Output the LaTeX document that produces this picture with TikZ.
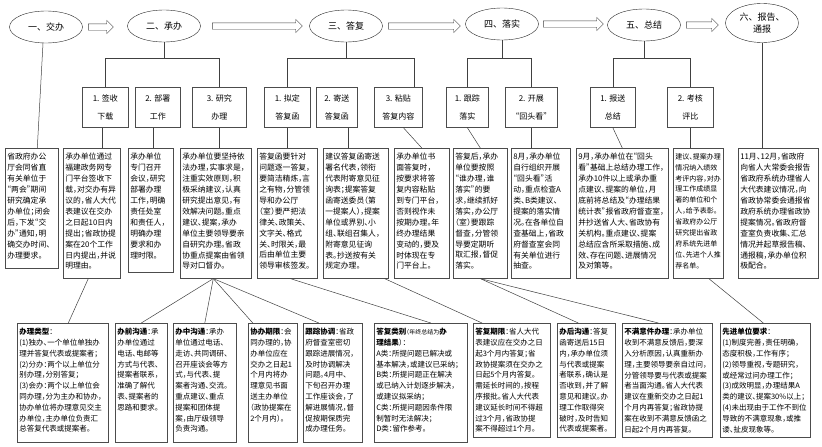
\documentclass[tikz,border=0pt]{standalone}
\usepackage{fontspec}
\setmainfont{Noto Sans CJK SC}[RawFeature=+halt]
\newfontfamily\ovalfont{Noto Sans CJK SC}
\usepackage{tikz}
\usetikzlibrary{shapes.geometric,shapes.arrows,positioning}

% fixed text block inside a frame, text at its top
\newcommand{\boxtext}[3]{\parbox[c][#2][t]{#1}{#3}}

\begin{document}
\begin{tikzpicture}[
    x=1pt, y=-1pt,
    oval/.style={ellipse, draw=black!85, minimum width=73pt, minimum height=32pt, inner sep=0pt, align=center, font=\ovalfont\fontsize{9}{12}\selectfont},
    flow/.style={single arrow, draw=black!75, single arrow head extend=3.5pt, single arrow head indent=0pt, inner sep=3pt, anchor=tail},
    stage/.style={rectangle, draw=black!70, line width=0.6pt, anchor=north west, minimum height=40pt, inner sep=1pt, align=center, font=\fontsize{8}{18}\selectfont},
    note/.style={rectangle, draw=black!70, line width=0.6pt, anchor=north west, inner xsep=2pt, inner ysep=5pt, font=\fontsize{7.8}{10.9}\selectfont},
    detail/.style={note, font=\fontsize{7.5}{10.8}\selectfont},
    link/.style={draw=black!75, line width=0.5pt}
]
    \useasboundingbox (0,0) rectangle (822,447);

    % stages
    \node[oval] (e1) at (46,27) {一、交办};
    \node[oval] (e2) at (164,26) {二、承办};
    \node[oval] (e3) at (346,26) {三、答复};
    \node[oval] (e4) at (502,24) {四、落实};
    \node[oval] (e5) at (644,25) {五、总结};
    \node[oval, minimum height=39pt] (e6) at (762,23) {六、报告、\\通报};

    \node[flow, minimum height=25pt] (f1) at ([xshift=5.5pt]e1.east) {};
    \node[flow, minimum height=90pt] (f2) at ([xshift=11.5pt]e2.east) {};
    \node[flow, minimum height=72pt] (f3) at ([xshift=5.5pt]e3.east) {};
    \node[flow, minimum height=60pt] (f4) at ([xshift=4.5pt]e4.east) {};
    \node[flow, minimum height=32pt] (f5) at ([xshift=5.5pt]e5.east) {};

    % steps
    \node[stage, minimum width=46pt] (s11) at (82,87) {1. 签收\\下载};
    \node[stage, minimum width=45pt] (s12) at (135,87) {2. 部署\\工作};
    \node[stage, minimum width=54pt] (s13) at (192,87) {3. 研究\\办理};
    \node[stage, minimum width=46pt] (s21) at (264,87) {1. 拟定\\答复函};
    \node[stage, minimum width=41pt] (s22) at (316,87) {2. 寄送\\答复函};
    \node[stage, minimum width=48pt] (s23) at (374,87) {3. 粘贴\\答复内容};
    \node[stage, minimum width=42pt] (s31) at (446,87) {1. 跟踪\\落实};
    \node[stage, minimum width=52pt] (s32) at (505,87) {2. 开展\\“回头看”};
    \node[stage, minimum width=45pt] (s41) at (590,87) {1. 报送\\总结};
    \node[stage, minimum width=46pt] (s42) at (667,87) {2. 考核\\评比};

    % what each step means
    \node[note] (A) at (5,148) {\boxtext{49pt}{110pt}{省政府办公\\厅会同省直\\有关单位于\\“两会”期间\\研究确定承\\办单位；闭会\\后，下发“交\\办”通知，明\\确交办时间、\\办理要求。}};
    \node[note] (B) at (63,148) {\boxtext{53pt}{120pt}{承办单位通过\\福建政务网专\\门平台签收下\\载，对交办有异\\议的，省人大代\\表建议在交办\\之日起10日内\\提出；省政协提\\案在20个工作\\日内提出，并说\\明理由。}};
    \node[note] (C) at (128,148) {\boxtext{41pt}{114pt}{承办单位\\专门召开\\会议，研究\\部署办理\\工作，明确\\责任处室\\和责任人，\\明确办理\\要求和办\\理时限。}};
    \node[note] (D) at (180,148) {\boxtext{67pt}{120pt}{承办单位要坚持依\\法办理，实事求是，\\注重实效原则，积\\极采纳建议，认真\\研究提出意见，有\\效解决问题。重点\\建议、提案，承办\\单位主要领导要亲\\自研究办理。省政\\协重点提案由省领\\导对口督办。}};
    \node[note] (E) at (257,148) {\boxtext{56pt}{120pt}{答复函要针对\\问题逐一答复，\\要简洁精炼，言\\之有物，分管领\\导和办公厅\\（室）要严把法\\律关、政策关、\\文字关、格式\\关、时限关，最\\后由单位主要\\领导审核签发。}};
    \node[note] (F) at (323,148) {\boxtext{61pt}{120pt}{建议答复函寄送\\署名代表，领衔\\代表附寄意见征\\询表；提案答复\\函寄送委员（第\\一提案人），提案\\单位或界别、小\\组、联组召集人，\\附寄意见征询\\表。抄送按有关\\规定办理。}};
    \node[note] (G) at (394,148) {\boxtext{51pt}{120pt}{承办单位书\\面答复时，\\按要求将答\\复内容粘贴\\到专门平台，\\否则视作未\\按期办理。年\\终办理结果\\变动的，要及\\时体现在专\\门平台上。}};
    \node[note] (H) at (453,148) {\boxtext{50pt}{120pt}{答复后，承办\\单位要按照\\“谁办理，谁\\落实”的要\\求，继续抓好\\落实，办公厅\\（室）要跟踪\\督查，分管领\\导要定期听\\取汇报，督促\\落实。}};
    \node[note] (I) at (511,148) {\boxtext{55pt}{120pt}{8月，承办单位\\自行组织开展\\“回头看”活\\动，重点检查A\\类、B类建议、\\提案的落实情\\况。在各单位自\\查基础上，省政\\府督查室会同\\有关单位进行\\抽查。}};
    \node[note] (J) at (576,148) {\boxtext{88pt}{120pt}{9月，承办单位在“回头\\看”基础上总结办理工作，\\承办10件以上或承办重\\点建议、提案的单位，月\\底前将总结及“办理结果\\统计表”报省政府督查室，\\并抄送省人大、省政协有\\关机构。重点建议、提案\\总结应含所采取措施、成\\效、存在问题、进展情况\\及对策等。}};
    \node[note, font=\fontsize{7}{10.9}\selectfont] (K) at (673,148) {\boxtext{46pt}{120pt}{建议、提案办理\\情况纳入绩效\\考评内容，对办\\理工作成绩显\\著的单位和个\\人，给予表彰。\\省政府办公厅\\研究提出省政\\府系统先进单\\位、先进个人推\\荐名单。}};
    \node[note] (L) at (738,148) {\boxtext{76pt}{120pt}{11月、12月，省政府\\向省人大常委会报告\\省政府系统办理省人\\大代表建议情况，向\\省政协常委会通报省\\政府系统办理省政协\\提案情况。省政府督\\查室负责收集、汇总\\情况并起草报告稿、\\通报稿，承办单位积\\极配合。}};

    % rules
    \node[detail] (M) at (17,323) {\boxtext{87pt}{109pt}{\textbf{办理类型}：\\(1)独办、一个单位单独办\\理并答复代表或提案者；\\(2)分办：两个以上单位分\\别办理，分别答复；\\(3)会办：两个以上单位会\\同办理，分为主办和协办，\\协办单位将办理意见交主\\办单位，主办单位负责汇\\总答复代表或提案者。}};
    \node[detail] (N) at (115,323) {\boxtext{48pt}{109pt}{\textbf{办前沟通}：承\\办单位通过\\电话、电邮等\\方式与代表、\\提案者联系，\\准确了解代\\表、提案者的\\思路和要求。}};
    \node[detail] (O) at (173,323) {\boxtext{59pt}{109pt}{\textbf{办中沟通}：承办\\单位通过电话、\\走访、共同调研、\\召开座谈会等方\\式，与代表、提\\案者沟通、交流。\\重点建议、重点\\提案和团体提\\案，由厅级领导\\负责沟通。}};
    \node[detail] (P) at (248,323) {\boxtext{45pt}{109pt}{\textbf{协办期限}：会\\同办理的，协\\办单位应在\\交办之日起1\\个月内将办\\理意见书面\\送主办单位\\（政协提案在\\2个月内）。}};
    \node[detail] (Q) at (303,323) {\boxtext{55pt}{109pt}{\textbf{跟踪协调}：省政\\府督查室密切\\跟踪进展情况，\\及时协调解决\\问题。4月中、\\下旬召开办理\\工作座谈会，了\\解进展情况，督\\促按期保质完\\成办理任务。}};
    \node[detail] (R) at (374,323) {\boxtext{89pt}{109pt}{\textbf{答复类别}{\fontsize{6}{10.8}\selectfont（年终总结为}\textbf{办\\理结果}）：\\A类：所提问题已解决或\\基本解决，或建议已采纳；\\B类：所提问题正在解决\\或已纳入计划逐步解决，\\或建议拟采纳；\\C类：所提问题因条件限\\制暂时无法解决；\\D类：留作参考。}};
    \node[detail] (S) at (473,323) {\boxtext{73pt}{104pt}{\textbf{答复期限}：省人大代\\表建议应在交办之日\\起3个月内答复；省\\政协提案须在交办之\\日起5个月内答复。\\需延长时间的，按程\\序报批。省人大代表\\建议延长时间不得超\\过3个月，省政协提\\案不得超过1个月。}};
    \node[detail] (T) at (557,323) {\boxtext{54pt}{104pt}{\textbf{办后沟通}：答复\\函寄送后15日\\内，承办单位须\\与代表或提案\\者联系，确认是\\否收到，并了解\\意见和建议。办\\理工作取得突\\破时，及时告知\\代表或提案者。}};
    \node[detail] (U) at (622,323) {\boxtext{86pt}{104pt}{\textbf{不满意件办理}：承办单位\\收到不满意反馈后，要深\\入分析原因，认真重新办\\理，主要领导要亲自过问，\\分管领导要与代表或提案\\者当面沟通。省人大代表\\建议在重新交办之日起1\\个月内再答复；省政协提\\案在收到不满意反馈函之\\日起2个月内再答复。}};
    \node[detail] (V) at (720,323) {\boxtext{86pt}{104pt}{\textbf{先进单位要求}：\\(1)制度完善，责任明确，\\态度积极，工作有序；\\(2)领导重视，专题研究，\\或经常过问办理工作；\\(3)成效明显，办理结果A\\类的建议、提案30\%以上；\\(4)未出现由于工作不到位\\导致的不满意现象，或推\\诿、扯皮现象等。}};

    % stage to steps
    \coordinate (bus) at (0,58);
    \coordinate (t23) at ([xshift=16pt]s23.north);
    \draw[link] ([xshift=-3pt]e1.south) -- ([xshift=5.5pt]A.north);
    \draw[link] (e2.south) -- (e2.south |- bus);
    \draw[link] (s11.north) |- (bus -| s13.north) -- (s13.north);
    \draw[link] (e3.south) -- (e3.south |- bus);
    \draw[link] (s21.north) |- (bus -| t23) -- (t23);
    \draw[link] (e4.south) -- (e4.south |- bus);
    \draw[link] (s31.north) |- (bus -| s32.north) -- (s32.north);
    \draw[link] (e5.south) -- (e5.south |- bus);
    \draw[link] (s41.north) |- (bus -| s42.north) -- (s42.north);
    \draw[link] (e6.south) -- (e6.south |- L.north);

    % steps to notes
    \draw[link] ([xshift=-3pt]s11.south) -- ([xshift=-3pt]s11.south |- B.north);
    \draw[link] ([xshift=-4.5pt]s12.south) -- ([xshift=-4.5pt]s12.south |- C.north);
    \draw[link] (s13.south) -- (s13.south |- D.north);
    \draw[link] (s21.south) -- (s21.south |- E.north);
    \draw[link] ([xshift=11.5pt]s22.south) -- ([xshift=11.5pt]s22.south |- F.north);
    \draw[link] ([xshift=5pt]s23.south) -- (G.north);
    \draw[link] (s31.south) -- (H.north);
    \draw[link] (s32.south) -- (s32.south |- I.north);
    \draw[link] (s41.south) -- (J.north);
    \draw[link] (s42.south) -- (s42.south |- K.north);

    % notes to rules
    \draw[link] ([xshift=-3.5pt]B.south) -- ([xshift=5.5pt]M.north);
    \draw[link] ([xshift=-2.5pt]D.south) -- (N.north);
    \draw[link] ([xshift=-2.5pt]D.south) -- (O.north);
    \draw[link] ([xshift=-2.5pt]D.south) -- ([xshift=-20pt]P.north);
    \draw[link] ([xshift=-2.5pt]D.south) -- ([xshift=-14pt]Q.north);
    \draw[link] ([xshift=3pt]E.south) -- ([xshift=10pt]R.north);
    \draw[link] ([xshift=-4pt]F.south east) -- ([xshift=9pt]S.north west);
    \draw[link] (H.south) -- ([xshift=-8pt]T.north);
    \draw[link] (H.south) -- ([xshift=-9pt]U.north);
    \draw[link] ([xshift=10.5pt]K.south) -- ([xshift=-2pt]V.north);
\end{tikzpicture}
\end{document}
